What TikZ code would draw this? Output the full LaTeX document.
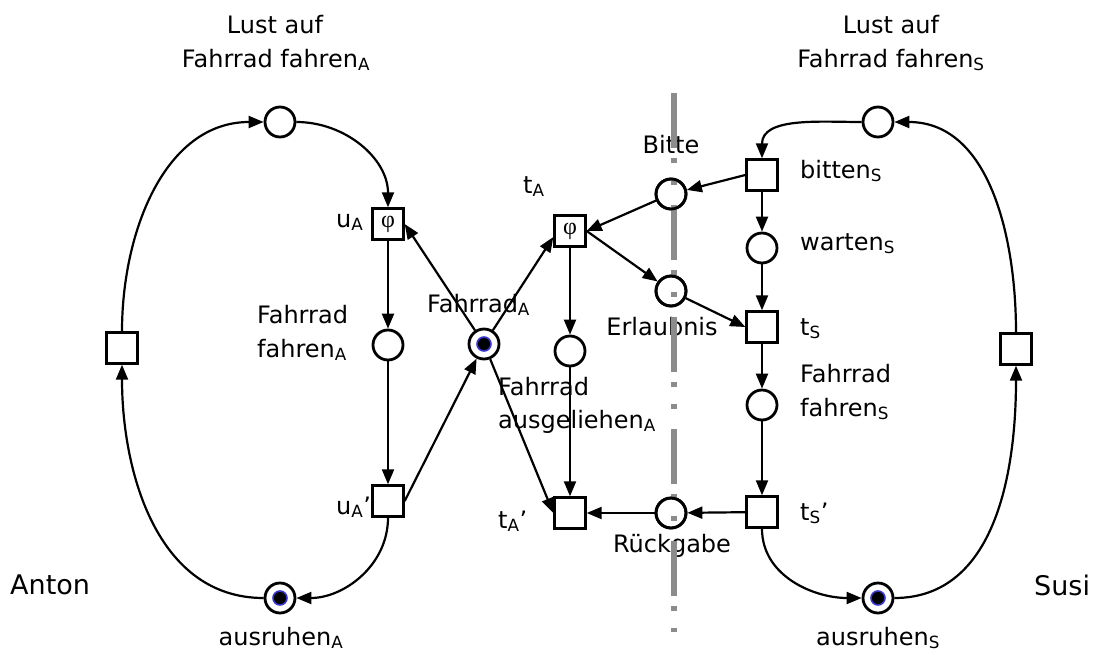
\documentclass[tikz,border=0pt]{standalone}
\usepackage{fontspec}
\setmainfont{DejaVu Sans}
\newfontfamily\phifont{Liberation Serif}
\usetikzlibrary{arrows.meta}
\definecolor{tokenblue}{RGB}{55,55,205}
\definecolor{divgray}{RGB}{140,140,140}
\newcommand{\sub}[1]{\textsubscript{#1}}
\newcommand{\phisym}{{\phifont\fontsize{24}{24}\selectfont φ}}

\begin{document}
\begin{tikzpicture}[x=1pt,y=1pt,
  place/.style={circle, draw, line width=2.8pt, fill=white, minimum size=30pt, inner sep=0pt},
  trans/.style={rectangle, draw, line width=2.4pt, fill=white, minimum size=31pt, inner sep=0pt},
  marked/.style={path picture={\draw[tokenblue, line width=1.6pt, fill=black]
      (path picture bounding box.center) circle (7pt);}},
  arc/.style={line width=2.2pt, -{Triangle[length=15pt,width=12pt]}},
  lbl/.style={font=\fontsize{24}{29}\selectfont, inner sep=0pt},
  biglbl/.style={font=\fontsize{27}{32}\selectfont, inner sep=0pt},
  divider/.style={divgray, line width=5.5pt, line cap=butt,
      dash pattern=on 55pt off 10pt on 5pt off 17pt on 5pt off 20pt}]

\useasboundingbox (0,0) rectangle (1101,-654);

% ---- Anton (left cycle) ----
\node[place] (LA) at (280,-122) {};
\node[trans] (LS) at (122,-348) {};
\node[place, marked] (AA) at (280,-598) {};
\node[trans] (uA) at (388,-224) {\phisym};
\node[place] (fahrA) at (388,-345) {};
\node[trans] (uA2) at (388,-501) {};
\node[place, marked] (fA) at (484,-344) {};

% ---- shared bike handling ----
\node[trans] (tA) at (570,-231) {\phisym};
\node[place] (ausg) at (570,-351) {};
\node[trans] (tA2) at (570,-513) {};
\node[place] (bitte) at (671,-194) {};
\node[place] (erl) at (671,-291) {};
\node[place] (rueck) at (671,-513) {};

% ---- Susi (right cycle) ----
\node[place] (RA) at (878,-122) {};
\node[trans] (RS) at (1016,-349) {};
\node[place, marked] (AS) at (878,-598) {};
\node[trans] (bitten) at (762,-175) {};
\node[place] (warten) at (762,-248) {};
\node[trans] (tS) at (762,-327) {};
\node[place] (fahrS) at (762,-405) {};
\node[trans] (tS2) at (762,-512) {};

% ---- arcs ----
\draw[arc] (LS.north) to[out=90,in=180] (LA.west);
\draw[arc] (LA.east) to[out=0,in=90] (uA.north);
\draw[arc] (uA) -- (fahrA);
\draw[arc] (fahrA) -- (uA2);
\draw[arc] (uA2.south) to[out=-90,in=0] (AA.east);
\draw[arc] (AA.west) to[out=180,in=-90] (LS.south);
\draw[arc] (uA2.east) -- (fA);
\draw[arc] (fA) -- (uA.east);
\draw[arc] (fA) -- (tA.200);
\draw[arc] (fA) -- (tA2.west);
\draw[arc] (tA) -- (ausg);
\draw[arc] (ausg) -- (tA2);
\draw[arc] (bitte) -- (tA.east);
\draw[arc] (tA.east) -- (erl);
\draw[arc] (bitten.west) -- (bitte);
\draw[arc] (erl) -- (tS.west);
\draw[arc] (bitten) -- (warten);
\draw[arc] (warten) -- (tS);
\draw[arc] (tS) -- (fahrS);
\draw[arc] (fahrS) -- (tS2);
\draw[arc] (tS2) -- (rueck);
\draw[arc] (rueck) -- (tA2);
\draw[arc] (RA.west) to[out=180,in=90] (bitten.north);
\draw[arc] (tS2.south) to[out=-90,in=180] (AS.west);
\draw[arc] (AS.east) to[out=0,in=-90] (RS.south);
\draw[arc] (RS.north) to[out=90,in=0] (RA.east);

% ---- labels ----
\node[lbl, anchor=base] (tLA1) at (275,-33) {Lust auf};
\node[lbl, anchor=base] (tLA2) at (276,-67) {Fahrrad fahren\sub{A}};
\node[lbl, anchor=base] (tRA1) at (891,-33) {Lust auf};
\node[lbl, anchor=base] (tRA2) at (891,-67) {Fahrrad fahren\sub{S}};
\node[lbl, anchor=base west] (tuA) at (336,-227) {u\sub{A}};
\node[lbl, anchor=base west] (tfahrA1) at (257,-323) {Fahrrad};
\node[lbl, anchor=base west] (tfahrA2) at (257,-357) {fahren\sub{A}};
\node[lbl, anchor=base west] (tuA2) at (336,-514) {u\sub{A}’};
\node[lbl, anchor=base west] (tfA) at (427,-312) {Fahrrad\sub{A}};
\node[lbl, anchor=base west] (ttA) at (523,-193) {t\sub{A}};
\node[lbl, anchor=base west] (tausg1) at (498,-395) {Fahrrad};
\node[lbl, anchor=base west] (tausg2) at (498,-428) {ausgeliehen\sub{A}};
\node[lbl, anchor=base west] (ttA2) at (498,-528) {t\sub{A}’};
\node[lbl, anchor=base] (tbitte) at (671,-153) {Bitte};
\node[lbl, anchor=base] (terl) at (662,-335) {Erlaubnis};
\node[lbl, anchor=base] (trueck) at (672,-552) {Rückgabe};
\node[lbl, anchor=base west] (tbitten) at (800,-178) {bitten\sub{S}};
\node[lbl, anchor=base west] (twarten) at (800,-250) {warten\sub{S}};
\node[lbl, anchor=base west] (ttS) at (800,-335) {t\sub{S}};
\node[lbl, anchor=base west] (tfahrS1) at (800,-382) {Fahrrad};
\node[lbl, anchor=base west] (tfahrS2) at (800,-416) {fahren\sub{S}};
\node[lbl, anchor=base west] (ttS2) at (800,-520) {t\sub{S}’};
\node[lbl, anchor=base] (tAA) at (281,-645) {ausruhen\sub{A}};
\node[lbl, anchor=base] (tAS) at (878,-645) {ausruhen\sub{S}};
\node[biglbl, anchor=base west] (anton) at (10,-594) {Anton};
\node[biglbl, anchor=base west] (susi) at (1034,-595) {Susi};

% ---- dividing line between the two sides ----
\coordinate (divtop) at (674,-93);
\coordinate (divbot) at (674,-632);
\draw[divider] (divtop) -- (divbot);
\foreach \p in {bitte, erl, rueck}
  \draw[line width=2.8pt] (\p) circle (15pt);
\end{tikzpicture}
\end{document}
